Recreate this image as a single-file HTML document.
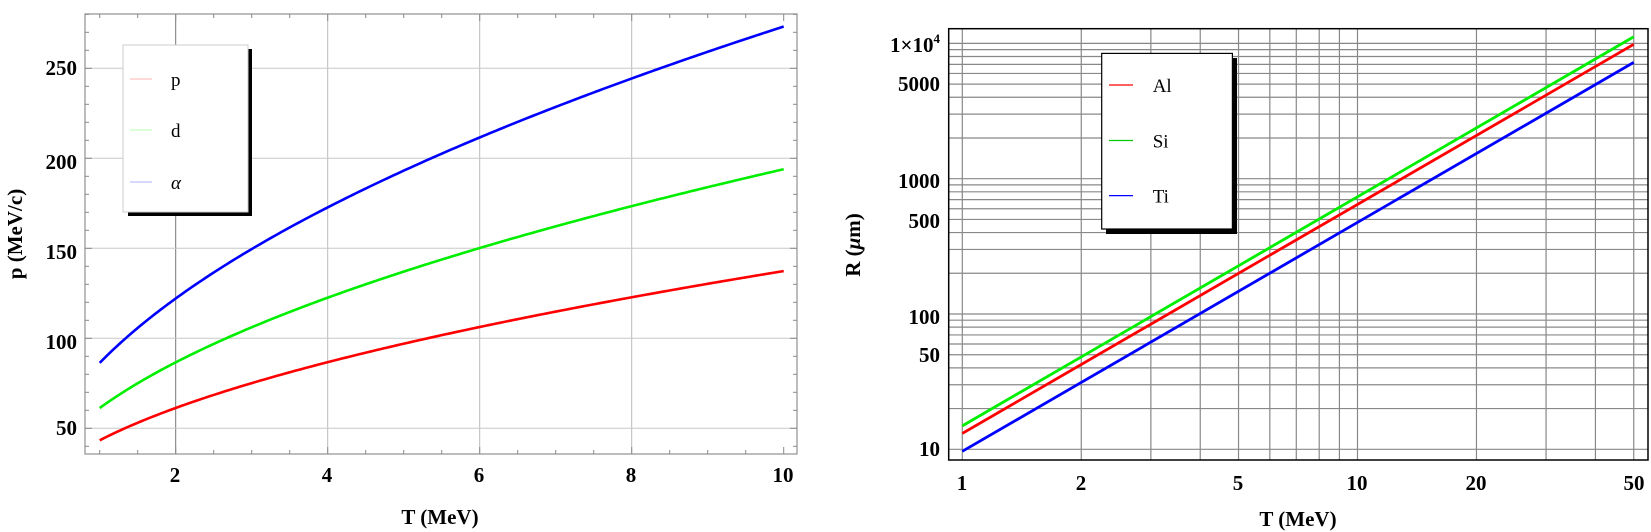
<!DOCTYPE html>
<html><head><meta charset="utf-8"><style>
html,body{margin:0;padding:0;background:#fff;}
svg{display:block;}
text{font-family:"Liberation Serif",serif;}
.b{font-weight:bold;font-size:21px;}
.lg{font-size:19px;}
</style></head><body>
<svg id="s" width="1651" height="532" xmlns="http://www.w3.org/2000/svg">
<g id="L"></g>
<g id="R"></g>
<g class="b" text-anchor="end">
<text x="77" y="435">50</text>
<text x="77" y="349">100</text>
<text x="77" y="259">150</text>
<text x="77" y="169">200</text>
<text x="77" y="75">250</text>
</g>
<g class="b" text-anchor="middle">
<text x="175" y="482">2</text>
<text x="327" y="482">4</text>
<text x="479" y="482">6</text>
<text x="631" y="482">8</text>
<text x="783" y="482">10</text>
<text x="440" y="524">T (MeV)</text>
<text transform="translate(22,234) rotate(-90)">p (MeV/c)</text>
</g>
<rect x="128" y="49" width="124" height="167" fill="#000"/>
<rect x="123" y="45" width="125" height="167" fill="#fff" stroke="#ccc" stroke-width="1"/>
<line x1="130" y1="79" x2="152" y2="79" stroke="#fcc" stroke-width="1.5"/>
<line x1="130" y1="130" x2="152" y2="130" stroke="#cfc" stroke-width="1.5"/>
<line x1="130" y1="182" x2="152" y2="182" stroke="#ccf" stroke-width="1.5"/>
<text class="lg" x="171" y="86">p</text>
<text class="lg" x="171" y="137">d</text>
<text class="lg" x="171" y="189" font-style="italic">α</text>
<g class="b" text-anchor="end">
<text x="940" y="456">10</text>
<text x="940" y="362">50</text>
<text x="940" y="324">100</text>
<text x="940" y="228">500</text>
<text x="940" y="188">1000</text>
<text x="940" y="91">5000</text>
<text x="940" y="52">1×10<tspan font-size="13" dy="-9">4</tspan></text>
</g>
<g class="b" text-anchor="middle">
<text x="962" y="490">1</text>
<text x="1081" y="490">2</text>
<text x="1238" y="490">5</text>
<text x="1357" y="490">10</text>
<text x="1476" y="490">20</text>
<text x="1634" y="490">50</text>
<text x="1298" y="526">T (MeV)</text>
<text transform="translate(860,245) rotate(-90)">R (<tspan font-style="italic">μ</tspan>m)</text>
</g>
<g id="RL"></g>
</svg>
<script>
var NS="http://www.w3.org/2000/svg";
function el(g,t,a){var e=document.createElementNS(NS,t);for(var k in a)e.setAttribute(k,a[k]);document.getElementById(g).appendChild(e);return e;}
var x0=85,x1=797,y0=14,y1=454;
function lx(T){return 99.7+(T-1)*76;}
function ly(v){return 428.3-(v-50)*1.8;}
[2,4,6,8].forEach(function(T){el("L","line",{x1:lx(T),x2:lx(T),y1:y0,y2:y1,stroke:T==2?"#777":"#bbb","stroke-width":1});});
[50,100,150,200,250].forEach(function(v){el("L","line",{x1:x0,x2:x1,y1:ly(v),y2:ly(v),stroke:"#c8c8c8","stroke-width":1});});
el("L","rect",{x:x0,y:y0,width:x1-x0,height:y1-y0,fill:"none",stroke:"#999","stroke-width":1.3});
for(var T=1;T<=10.01;T+=0.5){var big=(T%2==0);el("L","line",{x1:lx(T),x2:lx(T),y1:y1,y2:y1-(big?7:4),stroke:"#888"});el("L","line",{x1:lx(T),x2:lx(T),y1:y0,y2:y0+(big?7:4),stroke:"#888"});}
for(var v=40;v<=280;v+=10){var big=(v%50==0);el("L","line",{x1:x0,x2:x0+(big?7:4),y1:ly(v),y2:ly(v),stroke:"#888"});el("L","line",{x1:x1,x2:x1-(big?7:4),y1:ly(v),y2:ly(v),stroke:"#888"});}
[[938.3,"#f00"],[1875.6,"#0e0"],[3727.4,"#00f"]].forEach(function(s){var d="";for(var i=0;i<=200;i++){var T=1+9*i/200;var p=Math.sqrt(T*T+2*s[0]*T);d+=(i?"L":"M")+lx(T).toFixed(2)+","+ly(p).toFixed(2);}el("L","path",{d:d,fill:"none",stroke:s[1],"stroke-width":2.6});});
var X0=948.7,X1=1648,Y0=28.7,Y1=460;
function rx(T){return 962.3+395.2*Math.log10(T);}
function ry(R){return 449.3-135.3*(Math.log10(R)-1);}
var xs=[1,2,3,4,5,6,7,8,9,10,20,30,40,50];
xs.forEach(function(T){el("R","line",{x1:rx(T),x2:rx(T),y1:Y0,y2:Y1,stroke:"#888","stroke-width":1.2});});
for(var dec=10;dec<=10000;dec*=10){for(var m=1;m<=9;m++){var R=dec*m;if(R>12000)break;el("R","line",{x1:X0,x2:X1,y1:ry(R),y2:ry(R),stroke:"#888","stroke-width":1.2});}}
el("R","rect",{x:X0,y:Y0,width:X1-X0,height:Y1-Y0,fill:"none",stroke:"#000","stroke-width":1.5});
[[13.1,9840,"#f00"],[14.9,11200,"#0e0"],[9.66,7240,"#00f"]].forEach(function(s){el("R","line",{x1:rx(1),y1:ry(s[0]),x2:rx(50),y2:ry(s[1]),stroke:s[2],"stroke-width":2.8});});
el("RL","rect",{x:1106,y:58,width:131,height:176,fill:"#000"});
el("RL","rect",{x:1101.7,y:53.4,width:130.7,height:175.6,fill:"#fff",stroke:"#000","stroke-width":1.2});
[[85,"#f00","Al"],[140.5,"#0c0","Si"],[195.6,"#00f","Ti"]].forEach(function(s){el("RL","line",{x1:1109,x2:1133,y1:s[0],y2:s[0],stroke:s[1],"stroke-width":1.2});var t=el("RL","text",{x:1152.7,y:s[0]+7,"font-size":19});t.textContent=s[2];});
</script>
</body></html>
